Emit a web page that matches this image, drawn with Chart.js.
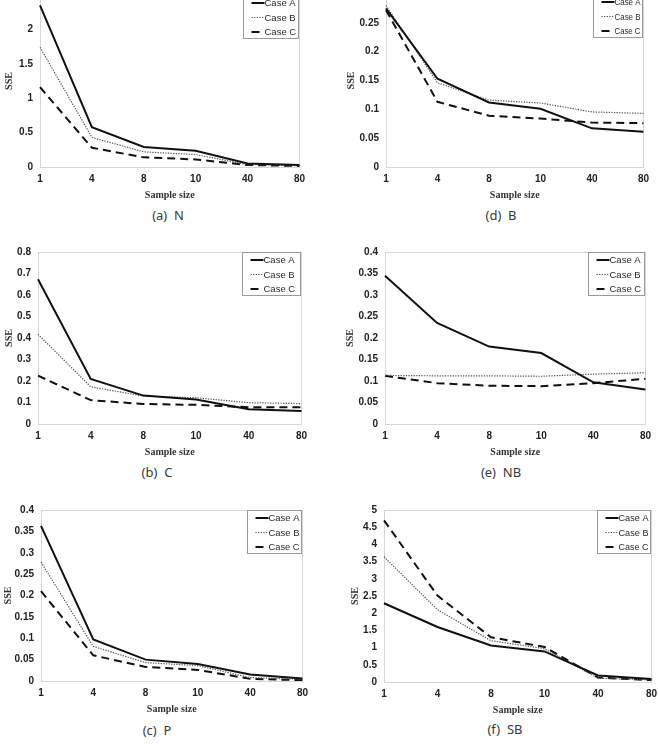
<!DOCTYPE html>
<html>
<head>
<meta charset="utf-8">
<script src="https://cdn.jsdelivr.net/npm/chart.js@4/dist/chart.umd.min.js"></script>
<style>
  html, body { margin:0; padding:0; background:#fff; width:658px; height:749px; overflow:hidden; position:relative; }
  .panel { position:absolute; }
  .cap { position:absolute; font-family:"Noto Sans","DejaVu Sans",sans-serif; font-size:13px; color:#3a3a3a; transform:translate(-50%,-50%); white-space:pre; }
</style>
</head>
<body>
<script>
// ---- data ----
const sampleSizes = ['1', '4', '8', '10', '40', '80'];
const seriesNames = ['Case A', 'Case B', 'Case C'];

// (a) N
const nCaseA = [2.35, 0.58, 0.29, 0.235, 0.05, 0.03];
const nCaseB = [1.74, 0.43, 0.22, 0.18, 0.035, 0.02];
const nCaseC = [1.16, 0.28, 0.14, 0.11, 0.03, 0.015];
// (b) C
const cCaseA = [0.673, 0.21, 0.132, 0.114, 0.069, 0.06];
const cCaseB = [0.417, 0.173, 0.13, 0.122, 0.099, 0.095];
const cCaseC = [0.225, 0.111, 0.093, 0.089, 0.078, 0.078];
// (c) P
const pCaseA = [0.363, 0.097, 0.05, 0.04, 0.015, 0.006];
const pCaseB = [0.278, 0.081, 0.043, 0.036, 0.008, 0.004];
const pCaseC = [0.21, 0.06, 0.033, 0.026, 0.005, 0.002];
// (d) B
const bCaseA = [0.275, 0.153, 0.112, 0.101, 0.067, 0.061];
const bCaseB = [0.28, 0.146, 0.116, 0.111, 0.0955, 0.093];
const bCaseC = [0.272, 0.113, 0.089, 0.084, 0.077, 0.076];
// (e) NB
const nbCaseA = [0.345, 0.235, 0.18, 0.165, 0.097, 0.08];
const nbCaseB = [0.113, 0.112, 0.112, 0.111, 0.116, 0.119];
const nbCaseC = [0.112, 0.095, 0.089, 0.088, 0.095, 0.105];
// (f) SB
const sbCaseA = [2.29, 1.6, 1.06, 0.89, 0.19, 0.09];
const sbCaseB = [3.64, 2.1, 1.2, 0.97, 0.11, 0.065];
const sbCaseC = [4.7, 2.51, 1.3, 1.02, 0.13, 0.055];

// y-axis ranges (max, step)
const yMaxes = { a: 2.5, b: 0.8, c: 0.4, d: 0.3, e: 0.4, f: 5 };
const ySteps = { a: 0.5, b: 0.1, c: 0.05, d: 0.05, e: 0.05, f: 0.5 };
const captions = { a: '(a)  N', b: '(b)  C', c: '(c)  P', d: '(d)  B', e: '(e)  NB', f: '(f)  SB' };
const panelData = {
  a: [nCaseA, nCaseB, nCaseC],
  b: [cCaseA, cCaseB, cCaseC],
  c: [pCaseA, pCaseB, pCaseC],
  d: [bCaseA, bCaseB, bCaseC],
  e: [nbCaseA, nbCaseB, nbCaseC],
  f: [sbCaseA, sbCaseB, sbCaseC]
};

// ---- layout (pixel geometry of each panel) ----
const layout = {
  a: { sseX: 10,  axisX: 40,  right: 304, top: -10.5, bottom: 167, capX: 168, capY: 215, legW: 55 },
  b: { sseX: 10,  axisX: 38,  right: 306, top: 247,   bottom: 424, capX: 157, capY: 472, legW: 58 },
  c: { sseX: 9,   axisX: 41,  right: 307, top: 505,   bottom: 681, capX: 157, capY: 730, legW: 54 },
  d: { sseX: 352, axisX: 386, right: 648, top: -11,   bottom: 167, capX: 501, capY: 215, legW: 49 },
  e: { sseX: 351, axisX: 385, right: 650, top: 247,   bottom: 424, capX: 501, capY: 472, legW: 56 },
  f: { sseX: 356, axisX: 384, right: 656, top: 505,   bottom: 682, capX: 505, capY: 729, legW: 53 }
};

const lineStyles = [
  { borderColor: '#111', borderWidth: 2, borderDash: [] },
  { borderColor: '#555', borderWidth: 1.2, borderDash: [1.3, 1.3] },
  { borderColor: '#111', borderWidth: 2, borderDash: [8, 5] }
];

const frameAndLegend = {
  id: 'frameAndLegend',
  beforeDatasetsDraw(chart) {
    const { ctx, chartArea: ca } = chart;
    ctx.save();
    ctx.strokeStyle = '#d6d6d6';
    ctx.lineWidth = 1;
    ctx.strokeRect(Math.round(ca.left) + 0.5, Math.round(ca.top) + 0.5, Math.round(ca.right - ca.left), Math.round(ca.bottom - ca.top));
    ctx.restore();
  },
  afterDraw(chart) {
    const { ctx, chartArea: ca } = chart;
    const w = chart.options.plugins.frameAndLegend.legW, h = 43;
    const x = Math.round(ca.right - 1 - w) + 0.5, y = Math.round(ca.top) + 0.5;
    ctx.save();
    ctx.fillStyle = '#fff';
    ctx.fillRect(x, y, w, h);
    ctx.strokeStyle = '#9a9a9a';
    ctx.lineWidth = 1;
    ctx.strokeRect(x, y, w, h);
    chart.data.datasets.forEach((ds, i) => {
      const ly = y + 7.5 + i * 14.5;
      ctx.beginPath();
      ctx.setLineDash(ds.borderDash || []);
      ctx.lineWidth = ds.borderWidth;
      ctx.strokeStyle = ds.borderColor;
      ctx.moveTo(x + 8, ly);
      ctx.lineTo(x + 21, ly);
      ctx.stroke();
      ctx.setLineDash([]);
      ctx.fillStyle = '#2a2a2a';
      ctx.font = '9.5px "Liberation Sans", Arial, sans-serif';
      ctx.textBaseline = 'middle';
      ctx.textAlign = 'left';
      ctx.fillText(ds.label, x + 21, ly + 0.5, w - 23);
    });
    ctx.restore();
  }
};

const fmt = v => String(parseFloat(Number(v).toFixed(3)));

Object.keys(layout).forEach(key => {
  const L = layout[key];
  const padTop = 8, padRight = 7, xAxisH = 36;
  const CL = L.sseX - 9;
  const CT = L.top - padTop;
  const W = L.right + padRight - CL;
  const H = L.bottom + xAxisH - CT;
  const yW = L.axisX - CL;

  const div = document.createElement('div');
  div.className = 'panel';
  div.style.left = CL + 'px';
  div.style.top = CT + 'px';
  div.style.width = W + 'px';
  div.style.height = H + 'px';
  const cv = document.createElement('canvas');
  cv.width = W; cv.height = H;
  cv.style.width = W + 'px'; cv.style.height = H + 'px';
  div.appendChild(cv);
  document.body.appendChild(div);

  const cap = document.createElement('div');
  cap.className = 'cap';
  cap.style.left = L.capX + 'px';
  cap.style.top = L.capY + 'px';
  cap.textContent = captions[key];
  document.body.appendChild(cap);

  new Chart(cv, {
    type: 'line',
    data: {
      labels: sampleSizes,
      datasets: panelData[key].map((vals, i) => Object.assign({
        label: seriesNames[i],
        data: vals,
        pointRadius: 0,
        tension: 0,
        fill: false
      }, lineStyles[i]))
    },
    options: {
      responsive: false,
      animation: false,
      events: [],
      layout: { padding: { top: padTop, right: padRight, left: 0, bottom: 0 } },
      plugins: {
        legend: { display: false },
        tooltip: { enabled: false },
        frameAndLegend: { legW: L.legW }
      },
      scales: {
        x: {
          type: 'category',
          offset: false,
          grid: { display: false, drawTicks: false },
          border: { display: true, color: '#c4c4c4', width: 1 },
          ticks: { color: '#222', padding: 6, autoSkip: false, maxRotation: 0,
                   font: { family: '"Liberation Sans", Arial, sans-serif', size: 10, weight: 'bold' } },
          title: { display: true, text: 'Sample size', color: '#333',
                   padding: { top: 0, bottom: 2 },
                   font: { family: '"Liberation Serif", "Times New Roman", serif', size: 10, weight: 'bold' } },
          afterFit: s => { s.height = xAxisH; }
        },
        y: {
          min: 0, max: yMaxes[key],
          grid: { display: false, drawTicks: false },
          border: { display: true, color: '#c4c4c4', width: 1 },
          ticks: { stepSize: ySteps[key], color: '#222', padding: 7, callback: v => fmt(v),
                   font: { family: '"Liberation Sans", Arial, sans-serif', size: 10, weight: 'bold' } },
          title: { display: true, text: 'SSE', color: '#333',
                   padding: { top: 2, bottom: 0 },
                   font: { family: '"Liberation Serif", "Times New Roman", serif', size: 10, weight: 'bold' } },
          afterFit: s => { s.width = yW; }
        }
      }
    },
    plugins: [frameAndLegend]
  });
});
</script>
</body>
</html>
